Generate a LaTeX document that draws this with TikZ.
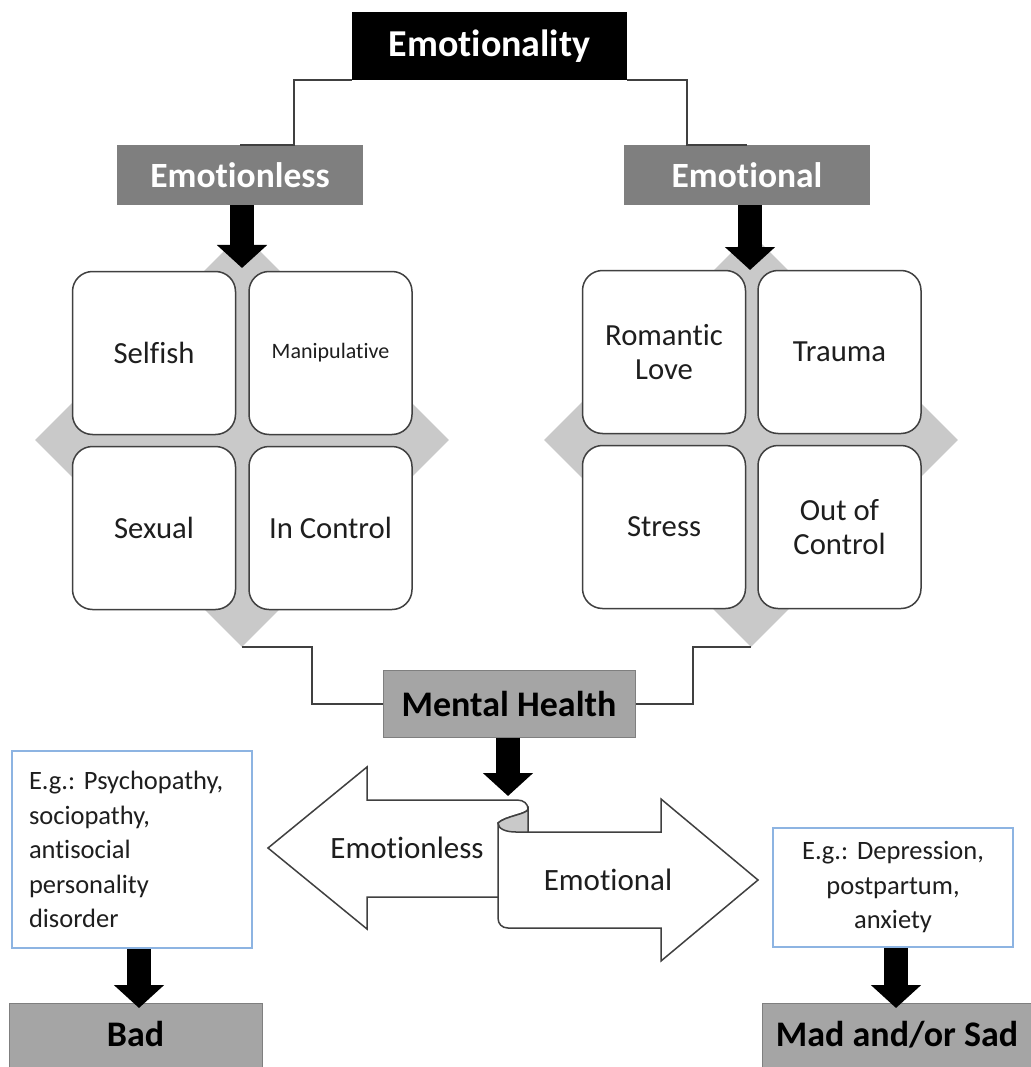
\documentclass[tikz,border=0pt]{standalone}
\usepackage{fontspec}
\setmainfont{Carlito}[Ligatures={NoCommon,NoContextual,NoRare}]
\usetikzlibrary{shapes.geometric,arrows.meta,calc}
\newcommand{\myfs}[2]{\fontsize{#1pt}{#2pt}\selectfont}
\newcommand{\nl}{\kern0pt }
\definecolor{darkbox}{HTML}{7F7F7F}
\definecolor{midbox}{HTML}{A5A5A5}
\definecolor{diamondgray}{HTML}{C9C9C9}
\definecolor{edgegray}{HTML}{404040}
\definecolor{txt}{HTML}{1E1E1E}
\definecolor{bluebox}{HTML}{8DB4E2}
\frenchspacing
\begin{document}
\begin{tikzpicture}[x=1pt,y=-1pt,
 conn/.style={draw=edgegray, line width=2pt},
 blk/.style={draw=black, line width=24pt, line cap=butt, -{Triangle[width=49pt,length=23pt]}},
 cell/.style={draw=edgegray, line width=1.5pt, fill=white, rounded corners=20pt, minimum width=163pt, minimum height=163pt, inner sep=0, align=center, text=txt, font=\myfs{30.7}{34}},
 topbox/.style={fill=darkbox, text=white, font=\bfseries\myfs{35.5}{40}, minimum width=246pt, minimum height=60pt, inner sep=0},
 midb/.style={fill=midbox, draw=darkbox, line width=1pt, text=black, font=\bfseries\myfs{36}{40}, inner sep=0},
 exbox/.style={draw=bluebox, line width=1.5pt, fill=white, inner sep=0, text=txt, font=\myfs{26.5}{34.5}},
 dia/.style={diamond, fill=diamondgray, minimum width=414pt, minimum height=414pt, inner sep=0},
 arrowtext/.style={text=txt, font=\myfs{31}{36}, inner sep=0},
 scroll/.style={draw=edgegray, line width=1.5pt, fill=white, line join=miter}
]
\useasboundingbox (0,0) rectangle (1030,1067);
\fill[white] (0,0) rectangle (1030,1067);

% top
\node[fill=black, text=white, font=\bfseries\myfs{38}{44}, minimum width=275pt, minimum height=68pt, inner sep=0] (emo) at (489.5,46) {Emot\nl ionality};
\node[topbox] (el) at (240,175) {Emot\nl ionless};
\node[topbox] (en) at (747,175) {Emot\nl ional};
\draw[conn] (emo.south west) -- ++(-58,0) |- (el.north);
\draw[conn] (emo.south east) -- ++(60,0) |- (en.north);

% matrices
\node[dia] (ld) at (242,440) {};
\node[dia] (rd) at (751,440) {};
\node[cell] (c1) at (154,353) {Selfish};
\node[cell, font=\myfs{22}{26}] (c2) at (330.5,353) {Manipulat\nl ive};
\node[cell] (c3) at (154,528) {Sexual};
\node[cell] (c4) at (330.5,528) {In Control};
\node[cell] (d1) at (664,352) {Romant\nl ic\\Love};
\node[cell] (d2) at (839.5,352) {Trauma};
\node[cell] (d3) at (664,527) {Stress};
\node[cell] (d4) at (839.5,527) {Out of\\Control};

\coordinate (ltip) at (242,268);
\coordinate (rtip) at (750,270);
\draw[blk] (el.south -| ltip) -- (ltip);
\draw[blk] (en.south -| rtip) -- (rtip);

% mental health
\node[midb, minimum width=252pt, minimum height=67pt] (mh) at (509,703.5) {Mental Health};
\draw[conn] (ld.south) -- ++(70,0) |- (mh.west);
\draw[conn] (rd.south) -- ++(-58,0) |- (mh.east);

% scroll double arrow
\path[scroll] (268,848) -- (367,767) -- (367,800) -- (517,800)
  .. controls (524,800) and (528,804) .. (528,809) -- (528,897) -- (367,897) -- (367,929) -- cycle;
\path[scroll] (528,832) -- (661,832) -- (661,799) -- (758,880) -- (661,961) -- (661,928) -- (508,928)
  .. controls (502,928) and (498,924) .. (498,918) -- (498,823)
  .. controls (505,816) and (528,814) .. (528,809) -- cycle;
\path[draw=edgegray, line width=1.5pt, fill=diamondgray] (498,823) .. controls (505,816) and (528,814) .. (528,809)
  -- (528,832) -- (516,832) .. controls (506,832) and (498,829) .. (498,823) -- cycle;
\node[arrowtext] (tl) at (407,848) {Emot\nl ionless};
\node[arrowtext] (tr) at (608,880) {Emot\nl ional};

\coordinate (mtip) at (508,796);
\draw[blk] (mh.south -| mtip) -- (mtip);

% examples
\node[exbox, minimum width=240pt, minimum height=197pt, text width=206pt, align=left] (lbox) at (132,849.5)
  {E.g.: Psychopathy,\\sociopathy,\\ant\nl isocial\\personality\\disorder};
\node[exbox, minimum width=240pt, minimum height=119pt, text width=230pt, align=center] (rbox) at (893,887.5)
  {E.g.: Depression,\\postpartum,\\anxiety};

\node[midb, minimum width=253pt, minimum height=66pt, text depth=4pt] (bad) at (135.5,1036) {Bad};
\node[midb, minimum width=270pt, minimum height=66pt, text depth=4pt] (mad) at (897,1036) {Mad and/or Sad};
\coordinate (btip) at (139,1008);
\coordinate (mdtip) at (896,1008);
\draw[blk] (lbox.south -| btip) -- (btip);
\draw[blk] (rbox.south -| mdtip) -- (mdtip);
\end{tikzpicture}
\end{document}
